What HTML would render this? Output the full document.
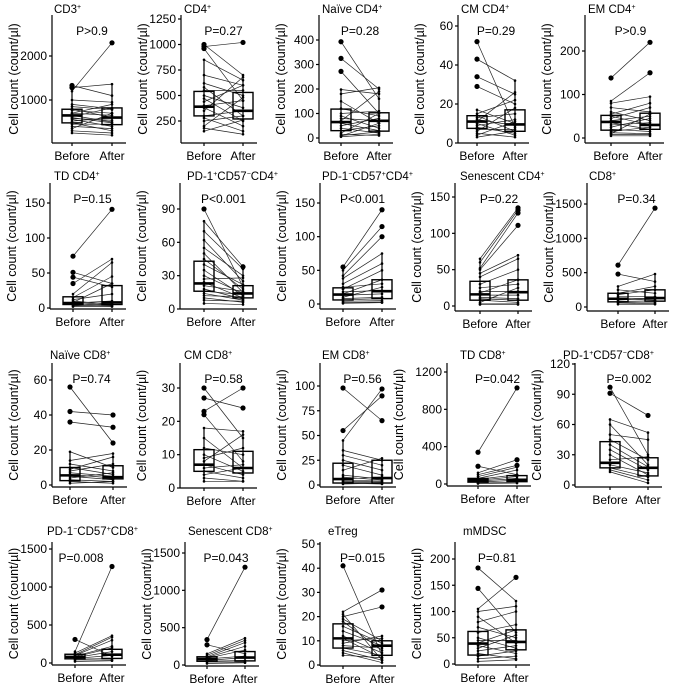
<!DOCTYPE html>
<html><head><meta charset="utf-8"><style>
html,body{margin:0;padding:0;background:#fff;}
svg{display:block;font-family:"Liberation Sans",Arial,sans-serif;}
</style></head><body>
<svg id="fig" width="677" height="687" viewBox="0 0 677 687" xmlns="http://www.w3.org/2000/svg"></svg>
<script>
// ---- data (values in count/µl) ----
const panelTitles = ["CD3^+","CD4^+","Naïve CD4^+","CM CD4^+","EM CD4^+","TD CD4^+","PD-1^+CD57^−CD4^+","PD-1^−CD57^+CD4^+","Senescent CD4^+","CD8^+","Naïve CD8^+","CM CD8^+","EM CD8^+","TD CD8^+","PD-1^+CD57^−CD8^+","PD-1^−CD57^+CD8^+","Senescent CD8^+","eTreg","mMDSC"];
const pLabels = ["P>0.9","P=0.27","P=0.28","P=0.29","P>0.9","P=0.15","P<0.001","P<0.001","P=0.22","P=0.34","P=0.74","P=0.58","P=0.56","P=0.042","P=0.002","P=0.008","P=0.043","P=0.015","P=0.81"];
const groupLabels = ["Before","After"];
const tickValues = [
 [1000,2000],[250,500,750,1000,1250],[0,100,200,300,400],[0,20,40,60],[0,100,200],
 [0,50,100,150],[0,30,60,90],[0,50,100,150],[0,50,100,150],[0,500,1000,1500],
 [0,20,40,60],[0,10,20,30],[0,25,50,75,100],[0,400,800,1200],[0,30,60,90,120],
 [0,500,1000,1500],[0,500,1000,1500],[0,10,20,30,40,50],[0,50,100,150,200]];
const boxBefore = [[480,650,790],[300,390,540],[30,65,118],[7.5,11,14],[18,37,52],[5,7,16],[16,23,43],[6,14,24],[8,16,34],[75,120,200],[2.5,5.5,10],[5,7,11.5],[2,6,22],[20,40,60],[17,22,43],[55,80,115],[50,80,110],[7,11,17],[17,39,62]];
const boxAfter = [[440,600,820],[270,350,530],[28,70,103],[6,9.5,17],[20,30,57],[5,8,32],[10,14,21],[8,19,36],[8,19,36],[85,130,250],[3.5,4.5,11],[4.5,6,11],[2,7,25],[25,45,90],[9,17,27],[60,110,180],[55,100,180],[4,8,10],[27,42,65]];
const valuesBefore = [
 [1330,1280,1200,1000,900,850,800,760,700,650,620,600,560,520,480,450,400,350,300,250,700,580],
 [1000,980,960,850,700,620,580,550,500,470,440,400,380,350,300,280,250,200,180,150],
 [393,325,272,198,180,150,120,100,90,80,70,60,50,40,30,20,15,10,8,5],
 [52,43,34,29,17,15,14,13,12,11,10,9,8,7,6,5,4,3],
 [138,85,80,70,60,55,50,45,40,35,30,25,20,15,12,10,8,5],
 [74,51,44,35,20,15,12,10,8,7,6,5,4,3,2],
 [90,79,70,62,55,50,45,40,35,30,27,24,21,18,16,14,12,10,8,5],
 [55,50,42,38,30,25,22,18,15,13,10,8,6,4,2,1],
 [65,60,52,50,45,40,30,25,20,18,15,12,10,8,5,3,2],
 [610,480,300,250,200,180,150,130,120,100,80,70,60,40],
 [56,42,36,19,14,12,10,9,8,7,6,5,4,3,2,1],
 [30,27,23,22,18,15,12,10,9,8,7,6,5,4,3,2],
 [98,55,45,35,30,25,20,15,10,8,6,5,4,3,2,1],
 [340,190,120,100,80,60,50,40,30,20,10,5],
 [97,91,65,60,50,45,40,35,30,25,20,17,15,13],
 [310,150,130,110,100,90,80,70,60,50,40,20],
 [340,270,150,130,110,100,90,80,60,50,40,20],
 [41,22,21,20,19,18,16,14,12,11,10,9,8,7,6,5,4],
 [183,144,105,100,90,80,70,60,50,45,40,35,30,25,20,15,10,5]];
const valuesAfter = [
 [1100,1360,2300,950,800,780,600,700,650,500,820,480,400,600,300,450,350,700,250,200,900,540],
 [700,1020,450,650,600,500,300,550,380,250,600,450,200,680,350,150,300,480,120,260],
 [160,200,100,180,205,60,90,110,40,70,190,30,80,20,50,100,10,25,60,15],
 [8,32,25,20,10,22,6,15,9,26,4,12,5,7,18,3,11,6],
 [220,150,95,60,40,80,30,70,50,20,35,45,15,25,10,55,8,5],
 [141,35,30,70,65,45,20,5,35,10,4,8,3,6,2],
 [20,38,36,25,30,15,18,22,12,14,28,10,16,9,13,8,11,6,7,4],
 [140,115,100,75,60,30,50,20,36,15,25,10,8,5,3,2],
 [135,132,128,111,70,65,50,30,20,36,15,10,8,5,25,3,2],
 [1440,370,480,200,300,250,150,120,100,130,90,70,50,40],
 [24,40,33,10,18,8,6,16,12,5,4,3,7,2,1,2],
 [15,24,30,8,17,6,10,5,12,16,4,7,3,6,2,2],
 [65,90,97,25,20,15,10,27,6,5,8,4,3,2,1,2],
 [1030,100,260,200,180,150,100,80,60,40,20,10],
 [30,69,52,20,45,25,18,15,10,28,12,8,5,2],
 [90,1270,360,340,300,220,200,150,100,60,40,30],
 [1310,150,360,330,300,250,200,120,100,60,40,30],
 [4,31,2,24,10,6,9,8,5,3,11,12,7,4,2,1,3],
 [120,60,165,110,40,100,50,75,30,45,65,20,55,35,10,25,15,8]];

// ---- layout (pixel geometry) ----
// [axisX, beforeX, afterX, top, bottom, refVal0, refPx0, refVal1, refPx1, titleX, pX]
const layout = [
 [52,72,112,15,143,1000,100,2000,56,54,null],
 [181,204,243,15,143,250,121,1250,19,184,null],
 [319,341,379,15,143,0,138,400,40,322,null],
 [458,477,515,15,143,0,143,60,26,461,null],
 [585,611,650,15,143,0,138,200,51,588,null],
 [50,73,112,183,309,0,308,150,203,54,null],
 [180,204,243,183,309,0,309,90,209,187,null],
 [320,343,382,183,309,0,304,150,203,322,null],
 [455,480,518,183,311,0,306,150,197,460,null],
 [587,618,655,183,311,0,307,1500,204,589,null],
 [52,70,113,363,487,0,485,60,380,50,null],
 [180,204,243,363,488,0,488,30,388,184,null],
 [320,343,382,363,487,0,485,100,386,322,null],
 [447,478,517,363,486,0,484,1200,372,460,null],
 [575,610,648,363,487,0,485,120,364,563,null],
 [52,75,112,542,665,0,663,1500,549,47,81],
 [185,207,245,542,666,0,665,1500,553,188,null],
 [320,343,382,542,666,0,665,50,544,328,null],
 [455,478,516,542,665,0,664,200,559,463,null]];
const titleY = [13,180,359,535];

const svg = document.getElementById('fig');
const NS = 'http://www.w3.org/2000/svg';
function mk(tag, attrs, parent){const e=document.createElementNS(NS,tag);for(const k in attrs)e.setAttribute(k,attrs[k]);(parent||svg).appendChild(e);return e;}
function addRich(el, str){
  const parts = str.split(/\^([+−])/);
  parts.forEach((p,i)=>{ if(!p) return;
    const t=document.createElementNS(NS,'tspan');
    if(i%2===1){t.setAttribute('font-size','7');t.setAttribute('dy','-4');t.textContent=p;el.appendChild(t);
      const r=document.createElementNS(NS,'tspan');r.setAttribute('dy','4');r.textContent='\u200b';el.appendChild(r);}
    else {t.textContent=p;el.appendChild(t);} });
}

layout.forEach((L,i)=>{
  const [ax,bx,afx,top,bot,v0,p0,v1,p1,tx,px]=L;
  const rowIdx = i<5?0:i<10?1:i<15?2:3;
  const y = v => p0 + (v-v0)*(p1-p0)/(v1-v0);
  const g = mk('g',{});
  
  
  const t=mk('text',{x:tx,y:titleY[rowIdx],'font-size':'11.5',fill:'#000'},g);
  addRich(t,panelTitles[i]);
  
  
  const pt=mk('text',{x:px||((bx+afx)/2),y:top+20,'font-size':'12','text-anchor':'middle'},g);
  pt.textContent=pLabels[i];
  
  
  const xEnd=afx+14;
  const ya=mk('line',{x1:ax,y1:top,x2:ax,y2:bot,stroke:'#000','stroke-width':1.2},g);
  
  
  const xa=mk('line',{x1:ax,y1:bot,x2:xEnd,y2:bot,stroke:'#000','stroke-width':1.2},g);
  
  
  tickValues[i].forEach(v=>{
    const yy=y(v);
    mk('line',{x1:ax-3,y1:yy,x2:ax,y2:yy,stroke:'#000','stroke-width':1.2},g);
    const tl=mk('text',{x:ax-5,y:yy+4,'font-size':'12','text-anchor':'end'},g);
    tl.textContent=v;
    
    
  });
  [bx,afx].forEach((cx,k)=>{
    mk('line',{x1:cx,y1:bot,x2:cx,y2:bot+3,stroke:'#000','stroke-width':1.2},g);
    const xl=mk('text',{x:cx,y:bot+17,'font-size':'12','text-anchor':'middle'},g);
    xl.textContent=groupLabels[k];
    
    
  });
  const ylx = (i===13)? ax-34-10 : ax-34;
  const yl=mk('text',{transform:`translate(${ylx},${(top+bot)/2}) rotate(-90)`,'font-size':'12.5','text-anchor':'middle'},g);
  yl.textContent='Cell count (count/µl)';
  
  
  const B=valuesBefore[i], A=valuesAfter[i];
  B.forEach((b,j)=>{
    const ln=mk('line',{x1:bx,y1:y(b),x2:afx,y2:y(A[j]),stroke:'#222','stroke-width':0.7},g);
    
    
  });
  [[bx,boxBefore[i],B],[afx,boxAfter[i],A]].forEach(([cx,bs,vals],k)=>{
    const [q1,md,q3]=bs, iqr=q3-q1;
    const inr=vals.filter(v=>v>=q1-1.5*iqr&&v<=q3+1.5*iqr);
    const lo=Math.min(q1,...inr), hi=Math.max(q3,...inr);
    const wl=mk('line',{x1:cx,y1:y(lo),x2:cx,y2:y(hi),stroke:'#000','stroke-width':1.2},g);
    
    
    const r=mk('rect',{x:cx-10,y:y(q3),width:20,height:Math.max(1,y(q1)-y(q3)),fill:'none',stroke:'#000','stroke-width':1.4},g);
    
    
    const m=mk('line',{x1:cx-10,y1:y(md),x2:cx+10,y2:y(md),stroke:'#000','stroke-width':2.6},g);
    
    
    vals.forEach(v=>{
      const out=v>q3+1.5*iqr||v<q1-1.5*iqr;
      const c=mk('circle',{cx:cx,cy:y(v),r:out?2.6:1.3,fill:'#000'},g);
      
      
    });
  });
});
</script>
</body></html>
